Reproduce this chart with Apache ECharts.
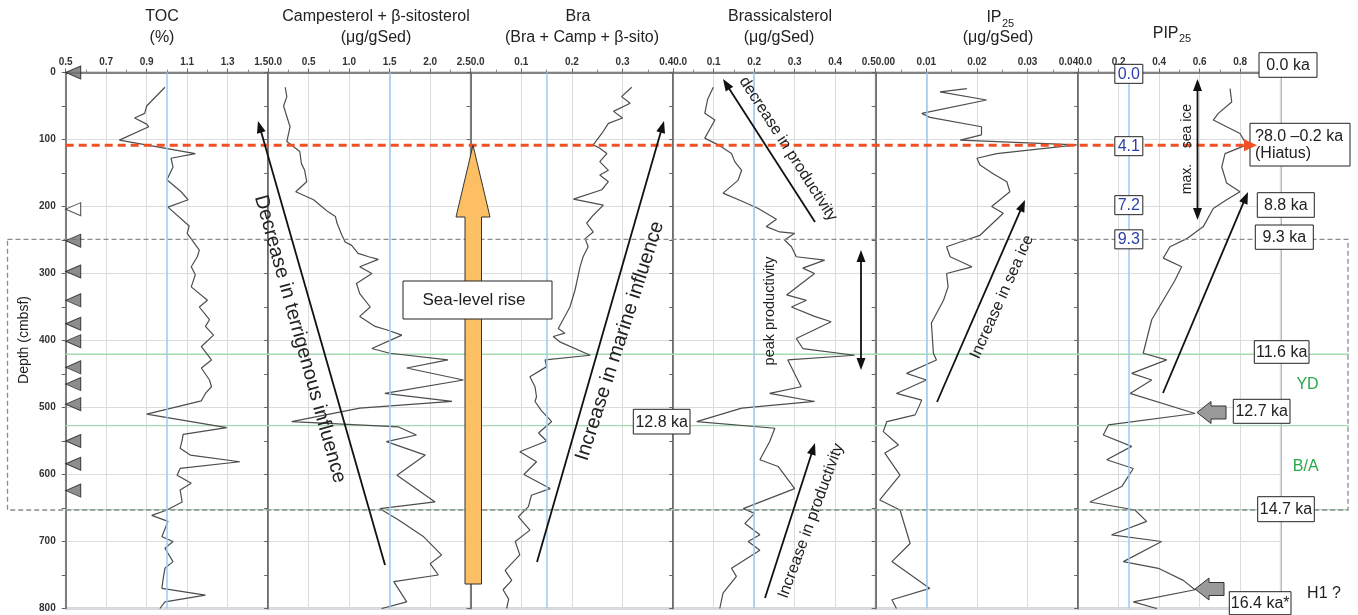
<!DOCTYPE html>
<html>
<head>
<meta charset="utf-8">
<script src="https://cdn.jsdelivr.net/npm/echarts@6/dist/echarts.min.js"></script>
<style>
html,body{margin:0;padding:0;background:#fff;}
#chart{width:1358px;height:615px;}
</style>
</head>
<body>
<div id="chart"></div>
<script>
// ---- Down-core records (depth in cmbsf) ----
const tocDepth = [22,50,61,68,77,81,101,121,128,141,160,178,190,201,229,240,265,275,290,302,320,340,350,369,379,392,409,429,441,459,469,479,490,510,530,540,549,561,571,581,591,601,613,623,641,653,661,670,693,700,710,730,740,758,770,780,790,800];
const tocPct   = [0.99,0.90,0.89,0.84,0.90,0.91,0.765,1.14,1.02,1.03,1.00,1.07,1.105,1.005,1.11,1.10,1.16,1.15,1.12,1.14,1.12,1.20,1.16,1.21,1.19,1.23,1.17,1.22,1.17,1.21,1.22,1.19,1.17,0.90,1.295,1.08,1.075,1.065,1.115,1.36,1.065,1.05,1.12,1.065,1.075,1.00,0.925,1.005,0.975,1.03,0.99,1.03,0.99,0.98,0.975,1.19,0.99,0.965];

const campDepth = [22,36,50,62,81,103,118,136,146,163,178,190,200,208,215,225,243,253,258,270,275,279,290,300,315,330,350,364,379,384,392,412,419,429,441,459,479,491,501,521,529,541,551,571,601,641,651,668,693,720,733,750,760,790,800];
const campSito = [0.21,0.23,0.19,0.22,0.27,0.23,0.39,0.41,0.45,0.475,0.34,0.56,0.66,0.74,0.83,0.85,0.91,0.95,1.03,1.11,1.24,1.36,1.13,1.28,1.09,1.13,1.26,1.13,1.32,1.46,1.65,1.28,1.50,2.22,1.71,2.41,1.44,2.27,1.13,0.29,1.61,1.83,1.46,1.94,1.59,2.06,1.38,1.61,1.92,2.14,2.00,2.10,1.55,1.71,1.40];

const braRatioDepth = [22,36,46,58,68,76,91,108,113,121,133,146,153,163,175,189,198,213,225,238,248,260,275,290,325,350,382,389,394,402,422,429,439,454,469,484,491,505,521,538,550,566,581,600,621,631,648,663,683,700,720,743,758,772,786,800];
const braRatio = [0.318,0.298,0.315,0.282,0.30,0.272,0.259,0.242,0.255,0.269,0.255,0.272,0.255,0.272,0.259,0.203,0.262,0.242,0.229,0.242,0.226,0.232,0.222,0.216,0.206,0.196,0.173,0.186,0.163,0.176,0.236,0.147,0.15,0.117,0.127,0.13,0.127,0.14,0.16,0.134,0.15,0.097,0.13,0.105,0.157,0.12,0.114,0.094,0.117,0.088,0.097,0.068,0.081,0.064,0.075,0.071];

const brassDepth = [22,40,61,71,98,108,121,133,146,161,180,193,203,219,230,238,240,250,260,275,280,292,300,332,340,350,364,372,397,412,422,429,469,479,491,501,521,531,551,578,588,621,651,658,673,690,700,713,740,752,777,800];
const brassicasterol = [0.099,0.085,0.078,0.103,0.078,0.111,0.144,0.152,0.169,0.16,0.123,0.173,0.21,0.255,0.23,0.263,0.30,0.275,0.292,0.304,0.374,0.32,0.349,0.28,0.329,0.292,0.349,0.39,0.304,0.32,0.448,0.283,0.316,0.238,0.349,0.169,0.058,0.251,0.238,0.214,0.259,0.30,0.173,0.201,0.177,0.214,0.185,0.214,0.144,0.156,0.123,0.115];

const ip25Depth = [24,29,41,61,67,81,93,101,108,121,128,138,151,163,178,200,210,243,253,260,275,290,300,320,340,374,419,429,449,459,479,489,511,521,536,556,568,601,638,653,703,730,770,787,800];
const ip25 = [0.018,0.0127,0.0219,0.0091,0.0107,0.0209,0.0209,0.0167,0.0397,0.0239,0.020,0.0206,0.0232,0.0259,0.0265,0.0229,0.0252,0.0206,0.0167,0.014,0.0147,0.019,0.014,0.0143,0.0134,0.011,0.0114,0.012,0.0061,0.010,0.0041,0.0091,0.0078,0.0022,0.0015,0.0045,0.0018,0.0048,0.0008,0.0048,0.0068,0.0032,0.0107,0.0032,0.0041];

const pipDepth = [24,44,61,71,91,108,121,141,165,178,190,203,230,248,260,277,290,310,369,419,429,449,459,479,509,526,541,558,578,591,618,641,653,670,690,700,730,740,758,772,790,800];
const pip25 = [0.75,0.758,0.692,0.667,0.799,0.832,0.725,0.709,0.733,0.799,0.733,0.667,0.618,0.536,0.453,0.42,0.511,0.478,0.363,0.321,0.437,0.264,0.363,0.256,0.577,0.149,0.124,0.264,0.141,0.272,0.215,0.058,0.28,0.338,0.165,0.412,0.223,0.396,0.519,0.577,0.272,0.388];

// dated horizons (filled) and the rejected date (open)
const dateDepths = [0,251,297,340,375,401,440,465,495,550,584,624];
const rejectedDateDepths = [204];

// panel scales: axis range, tick step, decimals, reference line
const panels = [
  {depth: tocDepth,      value: tocPct,          min: 0.5, max: 1.5,  step: 0.2,  dec: 1, ref: 1.0},
  {depth: campDepth,     value: campSito,        min: 0,   max: 2.5,  step: 0.5,  dec: 1, ref: 1.5},
  {depth: braRatioDepth, value: braRatio,        min: 0,   max: 0.4,  step: 0.1,  dec: 1, ref: 0.15},
  {depth: brassDepth,    value: brassicasterol,  min: 0,   max: 0.5,  step: 0.1,  dec: 1, ref: 0.2},
  {depth: ip25Depth,     value: ip25,            min: 0,   max: 0.04, step: 0.01, dec: 2, ref: 0.005},
  {depth: pipDepth,      value: pip25,           min: 0,   max: 1.0,  step: 0.2,  dec: 1, ref: 0.25}
];

const FONT = "'Liberation Sans', Arial, Helvetica, sans-serif";
const PANEL_LEFT = 65.7, PANEL_W = 202.5, PLOT_TOP = 72.5, PLOT_H = 536;
const AXIS = '#666', GRID = '#dcdcdc', CURVE = '#4d4d4d', REF = '#9ccaf0';

const grids = [], xAxes = [], yAxes = [], series = [];
panels.forEach((p, i) => {
  grids.push({left: PANEL_LEFT + PANEL_W * i, top: PLOT_TOP, width: PANEL_W, height: PLOT_H,
    show: true, borderColor: AXIS, borderWidth: 1.5, backgroundColor: 'transparent', outerBoundsMode: 'none'});
  xAxes.push({
    gridIndex: i, type: 'value', position: 'top', min: p.min, max: p.max, interval: p.step,
    axisLine: {show: true, lineStyle: {color: AXIS, width: 1.5}},
    axisTick: {show: true, length: 4, lineStyle: {color: AXIS}},
    minorTick: {show: true, splitNumber: 2, length: 3, lineStyle: {color: '#888'}},
    axisLabel: {fontSize: 10, fontWeight: 'bold', color: '#333', fontFamily: FONT, margin: 5,
      formatter: v => v.toFixed(p.dec), hideOverlap: false,
      alignMinLabel: i === 0 ? 'center' : 'left', alignMaxLabel: 'right', showMaxLabel: i < 5},
    splitLine: {show: true, lineStyle: {color: GRID, width: 1}}
  });
  yAxes.push({
    gridIndex: i, type: 'value', inverse: true, min: 0, max: 800, interval: 100,
    axisLine: {show: true, lineStyle: {color: AXIS, width: 1.5}},
    axisTick: {show: true, length: 4, lineStyle: {color: AXIS}},
    minorTick: {show: true, splitNumber: 2, length: 4, lineStyle: {color: AXIS}},
    axisLabel: {show: i === 0, fontSize: 10, fontWeight: 'bold', color: '#333', fontFamily: FONT, margin: 10},
    splitLine: {show: true, lineStyle: {color: GRID, width: 1}}
  });
  series.push({
    type: 'line', xAxisIndex: i, yAxisIndex: i, showSymbol: false, animation: false, z: 3,
    data: p.depth.map((d, k) => [p.value[k], d]),
    lineStyle: {color: CURVE, width: 1.2},
    markLine: {silent: true, symbol: 'none', animation: false, label: {show: false},
      lineStyle: {color: REF, width: 1.5, type: 'solid'}, data: [{xAxis: p.ref}]}
  });
});

const leftTriangle = 'path://M0,6.5L15,0L15,13Z';
series.push({
  type: 'scatter', xAxisIndex: 0, yAxisIndex: 0, clip: false, z: 6, animation: false,
  symbol: leftTriangle, symbolSize: [15, 13], symbolOffset: ['50%', 0],
  itemStyle: {color: '#707070', borderColor: '#222', borderWidth: 1},
  data: dateDepths.map(d => [0.5, d])
});
series.push({
  type: 'scatter', xAxisIndex: 0, yAxisIndex: 0, clip: false, z: 6, animation: false,
  symbol: leftTriangle, symbolSize: [15, 13], symbolOffset: ['50%', 0],
  itemStyle: {color: '#fff', borderColor: '#222', borderWidth: 1},
  data: rejectedDateDepths.map(d => [0.5, d])
});

const chart = echarts.init(document.getElementById('chart'), null, {renderer: 'canvas'});
chart.setOption({animation: false, grid: grids, xAxis: xAxes, yAxis: yAxes, series: series});

// ---- annotation layer ----
function txt(x, y, text, o) {
  o = o || {};
  return {type: 'text', x: x, y: y, rotation: o.rot || 0, z: o.z || 40, silent: true,
    style: {text: text, fontSize: o.size || 16, fontFamily: FONT, fill: o.color || '#222',
      align: o.align || 'center', verticalAlign: 'middle', lineHeight: o.lh, fontWeight: o.weight || 'normal'}};
}
function box(x, y, w, h, text, o) {
  o = o || {};
  const out = [{type: 'rect', shape: {x: x, y: y, width: w, height: h}, z: 30, silent: true,
    style: {fill: '#fff', stroke: '#222', lineWidth: 1}}];
  out.push(txt(o.tx != null ? o.tx : x + w / 2, y + h / 2 + 0.5, text,
    {size: o.size || 16, color: o.color, align: o.align, z: 31, lh: o.lh}));
  return out;
}
function head(x1, y1, x2, y2, len, half, color, z) {
  const a = Math.atan2(y2 - y1, x2 - x1);
  const bx = x2 - len * Math.cos(a), by = y2 - len * Math.sin(a);
  const px = -Math.sin(a) * half, py = Math.cos(a) * half;
  return {type: 'polygon', z: z || 45, silent: true,
    shape: {points: [[x2, y2], [bx + px, by + py], [bx - px, by - py]]}, style: {fill: color}};
}
function arrow(x1, y1, x2, y2, o) {
  o = o || {};
  const color = o.color || '#111', len = o.len || 12, half = o.half || 4.5;
  const a = Math.atan2(y2 - y1, x2 - x1);
  const out = [];
  let sx = x1, sy = y1;
  if (o.both) {
    out.push(head(x2, y2, x1, y1, len, half, color));
    sx = x1 + (len - 2) * Math.cos(a); sy = y1 + (len - 2) * Math.sin(a);
  }
  const ex = x2 - (len - 2) * Math.cos(a), ey = y2 - (len - 2) * Math.sin(a);
  out.push({type: 'line', z: 44, silent: true, shape: {x1: sx, y1: sy, x2: ex, y2: ey},
    style: {stroke: color, lineWidth: o.width || 1.8}});
  out.push(head(x1, y1, x2, y2, len, half, color));
  return out;
}

function annotations() {
  const Y = d => chart.convertToPixel({yAxisIndex: 0}, d);
  const X = (i, v) => chart.convertToPixel({xAxisIndex: i}, v);
  const x0 = X(0, 0.5), g = [];

  // titles
  g.push(txt(162, 17, 'TOC'), txt(162, 38, '(%)'));
  g.push(txt(376, 17, 'Campesterol + β-sitosterol'), txt(376, 38, '(μg/gSed)'));
  g.push(txt(578, 17, 'Bra'), txt(582, 38, '(Bra + Camp + β-sito)'));
  g.push(txt(780, 17, 'Brassicalsterol'), txt(779, 38, '(μg/gSed)'));
  g.push(txt(1001.5, 18, 'IP', {align: 'right'}), txt(1002, 24, '25', {size: 11, align: 'left'}), txt(998, 38, '(μg/gSed)'));
  g.push(txt(1178.5, 33.5, 'PIP', {align: 'right'}), txt(1179, 39, '25', {size: 11, align: 'left'}));
  g.push(txt(24.5, 340, 'Depth (cmbsf)', {size: 14, rot: Math.PI / 2}));

  // dashed frame of the deglacial interval and stage boundaries
  const fTop = Y(249), fBot = Y(653);
  g.push({type: 'rect', z: 4, silent: true, shape: {x: 7.5, y: fTop, width: 1340.5, height: fBot - fTop},
    style: {fill: 'none', stroke: '#8c8c8c', lineWidth: 1.3, lineDash: [5, 3]}});
  [420.5, 527, 652.5].forEach(d => g.push({type: 'line', z: 1, silent: true,
    shape: {x1: x0, y1: Y(d), x2: 1349, y2: Y(d)}, style: {stroke: '#a5dbb0', lineWidth: 1.3}}));

  // hiatus
  const yH = Y(108.5);
  g.push({type: 'line', z: 12, silent: true, shape: {x1: x0, y1: yH, x2: 1246, y2: yH},
    style: {stroke: '#ef5024', lineWidth: 3, lineDash: [8, 5]}});
  g.push(head(1200, yH, 1257, yH, 13, 6, '#ef5024', 35));

  // sea-level rise
  const tip = Y(108.5), hb = 217, sb = 584;
  g.push({type: 'polygon', z: 15, silent: true,
    shape: {points: [[465, sb], [465, hb], [456, hb], [473, tip], [490, hb], [481.5, hb], [481.5, sb]]},
    style: {fill: '#fdbf63', stroke: '#333', lineWidth: 1}});
  g.push(...box(403, 281, 149, 38, 'Sea-level rise', {size: 17, tx: 474}));

  // trend arrows
  g.push(...arrow(385, 565, 258, 121));
  g.push(txt(300, 339, 'Decrease in terrigenous influence', {size: 20, rot: -1.30}));
  g.push(...arrow(537, 562, 664, 121));
  g.push(txt(620, 341, 'Increase in marine influence', {size: 20, rot: 1.26}));
  g.push(...arrow(815, 222, 723, 79));
  g.push(txt(788, 149, 'decrease in productivity', {size: 16, rot: -1.0}));
  g.push(...arrow(861, 250, 861, 370, {both: true}));
  g.push(txt(770, 311, 'peak productivity', {size: 14.5, rot: Math.PI / 2}));
  g.push(...arrow(765, 598, 815, 443));
  g.push(txt(811, 521, 'Increase in productivity', {size: 16, rot: 1.22}));
  g.push(...arrow(937, 402, 1025, 200));
  g.push(txt(1002, 297, 'Increase in sea ice', {size: 16, rot: 1.15}));
  g.push(...arrow(1163, 393, 1248, 192));
  g.push(...arrow(1197.5, 79, 1197.5, 220, {both: true}));
  g.push(txt(1187, 149, 'max.    sea ice', {size: 14, rot: Math.PI / 2}));

  // calibrated ages along the reference line
  const bx = X(5, 0.25);
  [[2, '0.0'], [110, '4.1'], [198, '7.2'], [249, '9.3']].forEach(([d, t]) =>
    g.push(...box(bx - 14, Y(d) - 9.5, 28, 19, t, {color: '#2b3ea8'})));

  // age-model boxes
  g.push(...box(1259, 52.7, 58, 24.6, '0.0 ka'));
  g.push(...box(1250, 123.3, 100, 42.7, '?8.0 –0.2 ka\n(Hiatus)', {align: 'left', tx: 1255, lh: 17}));
  g.push(...box(1257.3, 192.7, 57, 24.6, '8.8 ka'));
  g.push(...box(1255.3, 225, 58, 24.3, '9.3 ka'));
  g.push(...box(1254.3, 340.7, 54.7, 22.6, '11.6 ka'));
  g.push(...box(1233.3, 399.3, 56.7, 24, '12.7 ka'));
  g.push(...box(1257.7, 496.7, 56.6, 25, '14.7 ka'));
  g.push(...box(1229.3, 591.7, 61.7, 23, '16.4 ka*'));
  g.push(...box(633.3, 409.3, 56.7, 24.7, '12.8 ka'));

  // block arrows marking PIP25 maxima
  [[1197, 412.5], [1195, 589]].forEach(([x, y]) => g.push({type: 'polygon', z: 32, silent: true,
    shape: {points: [[x, y], [x + 14, y - 11], [x + 14, y - 6.5], [x + 29, y - 6.5], [x + 29, y + 6.5], [x + 14, y + 6.5], [x + 14, y + 11]]},
    style: {fill: '#9a9a9a', stroke: '#333', lineWidth: 1}}));

  // climate stages
  g.push(txt(1307.5, 385, 'YD', {color: '#2aa84a'}));
  g.push(txt(1305.7, 466.7, 'B/A', {color: '#2aa84a'}));
  g.push(txt(1324, 593.5, 'H1 ?'));
  return g;
}
chart.setOption({graphic: {elements: annotations()}});
</script>
</body>
</html>
